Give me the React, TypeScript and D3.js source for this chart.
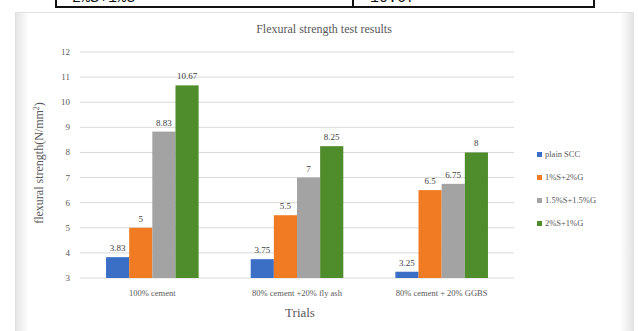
import React from "react";
import * as d3 from "d3";

const categories = ["100% cement", "80% cement +20% fly ash", "80% cement + 20% GGBS"];
const seriesNames = ["plain SCC", "1%S+2%G", "1.5%S+1.5%G", "2%S+1%G"];
const plainSCC = [3.83, 3.75, 3.25];
const s1G2 = [5, 5.5, 6.5];
const s15G15 = [8.83, 7, 6.75];
const s2G1 = [10.67, 8.25, 8];
const yTicks = [3, 4, 5, 6, 7, 8, 9, 10, 11, 12];
const colors = ["#3b6fc6", "#f07b22", "#a3a3a3", "#4f8c2c"];

const W = 638;
const H = 331;
const plot = { left: 80, right: 514, top: 52, bottom: 278 };

export default function App() {
  const series = [plainSCC, s1G2, s15G15, s2G1];
  const x0 = d3.scaleBand<string>().domain(categories).range([plot.left, plot.right]).paddingInner(0.36).paddingOuter(0.18);
  const x1 = d3.scaleBand<string>().domain(seriesNames).range([0, x0.bandwidth()]);
  const y = d3.scaleLinear().domain([3, 12]).range([plot.bottom, plot.top]);
  const serif = "'Liberation Serif', 'DejaVu Serif', serif";
  const txt = "#595959";

  return (
    <svg width={W} height={H} style={{ position: "absolute", left: 0, top: 0, background: "#fff" }}>
      <defs>
        <linearGradient id="shadeL" x1="0" x2="1">
          <stop offset="0" stopColor="#e4e4e4" />
          <stop offset="1" stopColor="#ffffff" />
        </linearGradient>
        <linearGradient id="shadeR" x1="0" x2="1">
          <stop offset="0" stopColor="#ffffff" />
          <stop offset="1" stopColor="#e2e2e2" />
        </linearGradient>
      </defs>
      {/* table edge above the figure */}
      <g fontFamily="'Liberation Mono', monospace" fontSize={15} fill="#111">
        <text x={72} y={2}>2%S+1%G</text>
        <text x={370} y={2}>10.67</text>
        <line x1={56} x2={56} y1={0} y2={8} stroke="#111" strokeWidth={2} />
        <line x1={353} x2={353} y1={0} y2={8} stroke="#111" strokeWidth={2} />
        <line x1={594} x2={594} y1={0} y2={8} stroke="#111" strokeWidth={2} />
        <line x1={55} x2={595} y1={7} y2={7} stroke="#111" strokeWidth={2} />
      </g>
      {/* chart frame */}
      <rect x={15} y={12} width={14} height={H} fill="url(#shadeL)" />
      <rect x={620} y={12} width={14} height={H} fill="url(#shadeR)" />
      <rect x={15.5} y={12.5} width={618} height={H} fill="none" stroke="#e0e0e0" />
      <text x={324} y={33} textAnchor="middle" fontFamily={serif} fontSize={12} fill={txt}>
        Flexural  strength test results
      </text>
      {/* gridlines and y ticks */}
      {yTicks.map((t) => (
        <g key={t}>
          <line x1={plot.left} x2={plot.right} y1={y(t)} y2={y(t)} stroke="#d9d9d9" strokeWidth={1} />
          <text x={70} y={y(t) + 3} textAnchor="end" fontFamily={serif} fontSize={9} fill={txt}>{t}</text>
        </g>
      ))}
      {/* bars */}
      {categories.map((c, ci) => (
        <g key={c} transform={`translate(${x0(c)},0)`}>
          {series.map((s, si) => (
            <g key={si}>
              <rect x={x1(seriesNames[si])} y={y(s[ci])} width={x1.bandwidth()} height={y(3) - y(s[ci])} fill={colors[si]} />
              <text x={(x1(seriesNames[si]) as number) + x1.bandwidth() / 2} y={y(s[ci]) - 6} textAnchor="middle"
                fontFamily={serif} fontSize={9} fill="#404040">{s[ci]}</text>
            </g>
          ))}
        </g>
      ))}
      {/* category labels */}
      {categories.map((c) => (
        <text key={c} x={(x0(c) as number) + x0.bandwidth() / 2} y={296} textAnchor="middle" fontFamily={serif} fontSize={8.5} fill={txt}>{c}</text>
      ))}
      <text x={300} y={317} textAnchor="middle" fontFamily={serif} fontSize={13} fill={txt}>Trials</text>
      <text transform={`translate(43,163) rotate(-90)`} textAnchor="middle" fontFamily={serif} fontSize={12} fill={txt}>
        flexural strength(N/mm<tspan dy={-4} fontSize={8}>2</tspan><tspan dy={4}>)</tspan>
      </text>
      {/* legend */}
      {seriesNames.map((n, i) => (
        <g key={n} transform={`translate(537,${155 + i * 23})`}>
          <rect x={0} y={-3} width={5} height={5} fill={colors[i]} />
          <text x={8} y={2} fontFamily={serif} fontSize={8.5} fill={txt}>{n}</text>
        </g>
      ))}
    </svg>
  );
}
